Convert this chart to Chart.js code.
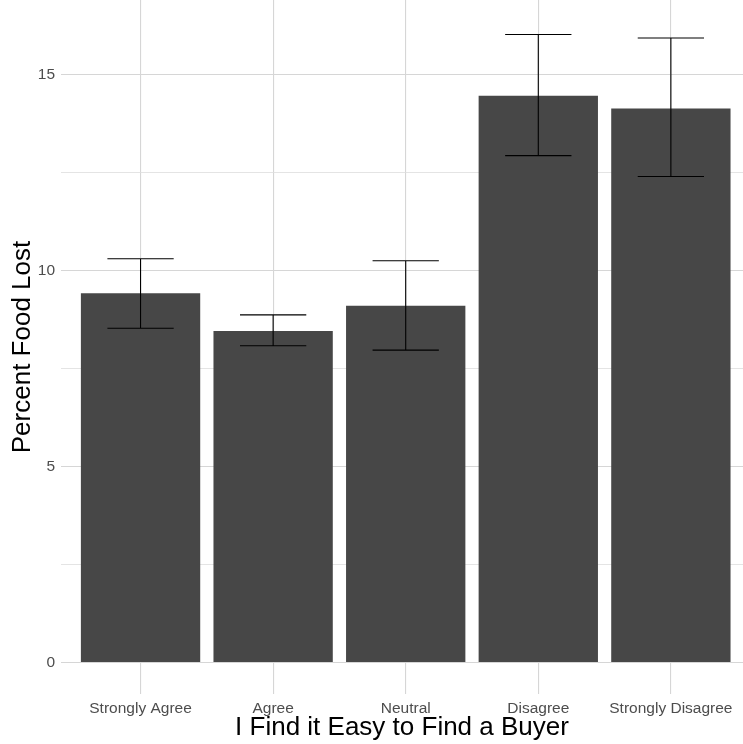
<!DOCTYPE html>
<html>
<head>
<meta charset="utf-8">
<script src="https://cdn.jsdelivr.net/npm/chart.js@4.4.0/dist/chart.umd.min.js"></script>
<style>
  html, body { margin: 0; padding: 0; background: #fff; overflow: hidden; }
  #myChart { display: block; }
</style>
</head>
<body>
<canvas id="myChart" width="743" height="744"></canvas>
<script>
let categories = ["Strongly Agree", "Agree", "Neutral", "Disagree", "Strongly Disagree"]
let percentLost = [9.42, 8.46, 9.1, 14.46, 14.13]
let errLow = [8.53, 8.08, 7.97, 12.93, 12.4]
let errHigh = [10.3, 8.87, 10.25, 16.02, 15.93]
let yTicks = [0, 5, 10, 15]

let FONT = "'Liberation Sans', Arial, Helvetica, sans-serif"

// ggplot-ish error bars, drawn through the scales
let errorBars = {
    id: 'errorBars',
    afterDatasetsDraw(chart) {
        let x = chart.scales.x, y = chart.scales.y, c = chart.ctx
        c.save()
        c.strokeStyle = '#000'
        c.lineWidth = 1.1
        categories.forEach(function(cat, i) {
            let px = x.getPixelForValue(i)
            let half = x.getPixelForValue(i + 0.25) - px
            let top = y.getPixelForValue(errHigh[i])
            let bot = y.getPixelForValue(errLow[i])
            c.beginPath()
            c.moveTo(px, top); c.lineTo(px, bot)
            c.moveTo(px - half, top); c.lineTo(px + half, top)
            c.moveTo(px - half, bot); c.lineTo(px + half, bot)
            c.stroke()
        })
        c.restore()
    }
}

let ctx = document.querySelector("#myChart")
let graphData = {
    type: 'bar',
    data: {
        datasets: [{
            data: percentLost.map(function(v, i) { return {x: i, y: v} }),
            backgroundColor: '#474747',
            borderWidth: 0,
            barPercentage: 0.9,
            categoryPercentage: 1.0
        }]
    },
    options: {
        responsive: false,
        animation: false,
        layout: { padding: 0 },
        plugins: { legend: { display: false }, tooltip: { enabled: false } },
        scales: {
            x: {
                type: 'linear',
                min: -0.6,
                max: 4.544,
                offset: false,
                border: { display: false },
                grid: { color: '#d6d6d6', lineWidth: 1.1, drawTicks: false, offset: false },
                ticks: {
                    stepSize: 1,
                    includeBounds: false,
                    autoSkip: false,
                    maxRotation: 0,
                    padding: 5,
                    color: '#4d4d4d',
                    font: { family: FONT, size: 15.5 },
                    callback: function(v) { return categories[v] }
                },
                title: {
                    display: true,
                    text: 'I Find it Easy to Find a Buyer',
                    color: '#000',
                    font: { family: FONT, size: 26 },
                    padding: { top: 0, bottom: 1 }
                },
                afterFit: function(s) { s.height = 50; s.paddingLeft = 0; s.paddingRight = 0 }
            },
            y: {
                min: -0.8,
                max: 16.9,
                border: { display: false },
                grid: {
                    drawTicks: false,
                    color: function(c) { return c.tick && c.tick.value % 5 === 0 ? '#d6d6d6' : '#dddddd' },
                    lineWidth: function(c) { return c.tick && c.tick.value % 5 === 0 ? 1.1 : 0.8 }
                },
                ticks: {
                    stepSize: 2.5,
                    includeBounds: false,
                    padding: 6,
                    color: '#4d4d4d',
                    font: { family: FONT, size: 15.5 },
                    callback: function(v) { return yTicks.includes(v) ? v : '' }
                },
                title: {
                    display: true,
                    text: 'Percent Food Lost',
                    color: '#000',
                    font: { family: FONT, size: 26 },
                    padding: { top: 7, bottom: 0 }
                },
                afterFit: function(s) { s.width = 61; s.paddingTop = 0; s.paddingBottom = 0 }
            }
        }
    },
    plugins: [errorBars]
}
let myChart = new Chart(ctx, graphData)
</script>
</body>
</html>
